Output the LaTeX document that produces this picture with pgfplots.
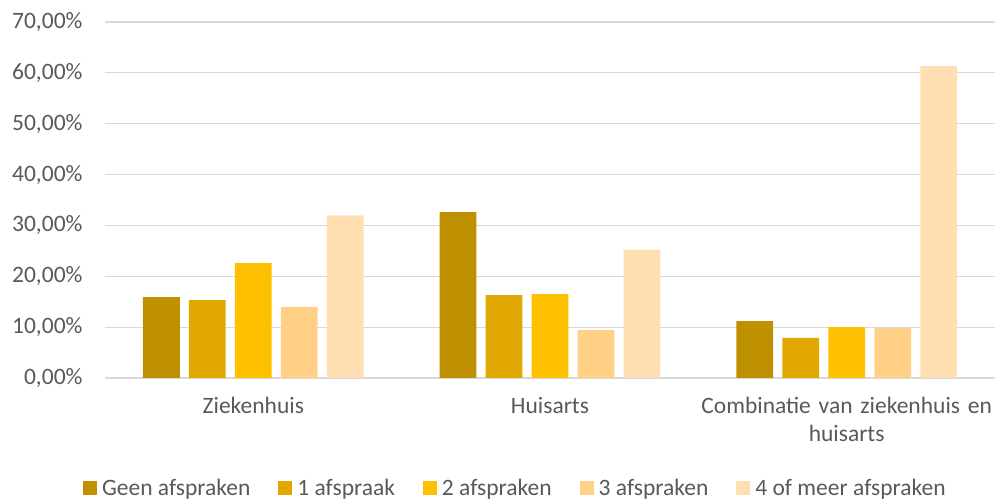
\documentclass[border=0pt]{standalone}
\usepackage{pgfplots}
\pgfplotsset{compat=1.18}
\usepackage{fontspec}
\setmainfont{Carlito}
\definecolor{c0}{HTML}{BF9000}
\definecolor{c1}{HTML}{E0A800}
\definecolor{c2}{HTML}{FFC000}
\definecolor{c3}{HTML}{FFD085}
\definecolor{c4}{HTML}{FFDFB2}
\definecolor{txt}{HTML}{595959}
\definecolor{grd}{HTML}{D9D9D9}
\begin{document}
\begin{tikzpicture}
\begin{axis}[
  at={(105pt,122pt)}, anchor=south west,
  scale only axis, width=890pt, height=356pt,
  xmin=-0.5, xmax=2.5, ymin=0, ymax=70,
  axis line style={draw=none},
  axis x line*=bottom,
  ytick={0,10,...,70},
  yticklabels={{0,00\%},{10,00\%},{20,00\%},{30,00\%},{40,00\%},{50,00\%},{60,00\%},{70,00\%}},
  xtick={0,1,2},
  xticklabels={Ziekenhuis,Huisarts,{Combinatie van ziekenhuis en\\huisarts}},
  xticklabel style={align=center, text width=320pt, yshift=-16pt},
  yticklabel style={xshift=-19pt},
  ymajorgrids, grid style={grd, line width=1.2pt},
  major tick length=0pt,
  tick label style={font=\fontsize{23.5}{27.5}\selectfont, text=txt},
  extra y ticks={0}, extra y tick labels={}, extra y tick style={grid style={grd, line width=1.5pt}},
  legend columns=5,
  legend style={draw=none, fill=none, at={(0.461,-0.308)}, anchor=center,
    font=\fontsize{23.5}{27.5}\selectfont, text=txt,
    /tikz/every odd column/.append style={column sep=3pt},
    /tikz/every even column/.append style={column sep=26pt}},
  legend image code/.code={\fill[#1] (0pt,-7pt) rectangle (14pt,7pt);},
]
\addplot[ybar, fill=c0, draw=none, bar width=0.124, bar shift=-0.31] coordinates {(0,15.9) (1,32.6) (2,11.2)};
\addlegendentry{Geen afspraken}
\addplot[ybar, fill=c1, draw=none, bar width=0.124, bar shift=-0.155] coordinates {(0,15.3) (1,16.3) (2,7.9)};
\addlegendentry{1 afspraak}
\addplot[ybar, fill=c2, draw=none, bar width=0.124, bar shift=0] coordinates {(0,22.6) (1,16.5) (2,10.0)};
\addlegendentry{2 afspraken}
\addplot[ybar, fill=c3, draw=none, bar width=0.124, bar shift=0.155] coordinates {(0,14.0) (1,9.4) (2,9.8)};
\addlegendentry{3 afspraken}
\addplot[ybar, fill=c4, draw=none, bar width=0.124, bar shift=0.31] coordinates {(0,32.0) (1,25.2) (2,61.3)};
\addlegendentry{4 of meer afspraken}
\end{axis}
\pgfresetboundingbox
\path (0,0) rectangle (995pt,500pt);
\end{tikzpicture}
\end{document}
